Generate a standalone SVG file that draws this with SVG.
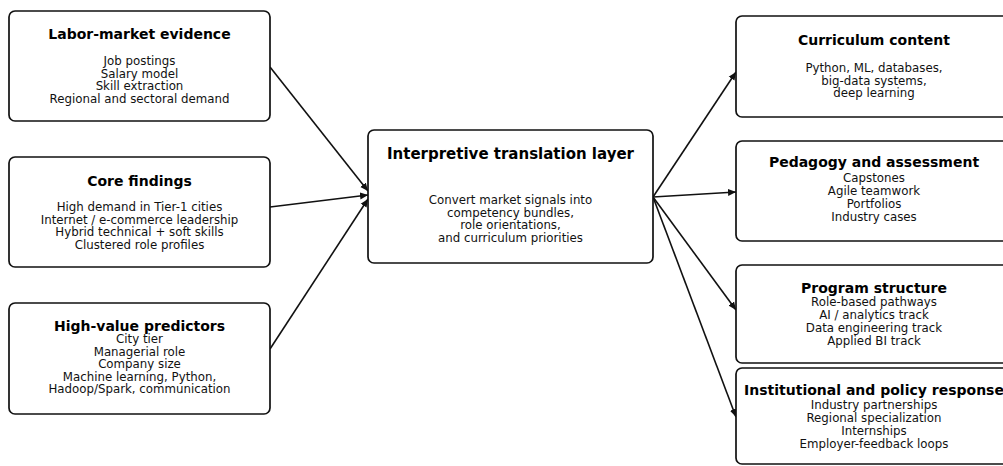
<svg xmlns="http://www.w3.org/2000/svg" width="1003" height="466" viewBox="0 0 1003 466">
<style>
.box{fill:#fff;stroke:#111;stroke-width:1.7}
.t{font-family:"DejaVu Sans",sans-serif;font-weight:bold;font-size:14px;fill:#000;text-anchor:middle}
.tc{font-size:15px}
.b{font-family:"DejaVu Sans",sans-serif;font-size:11.8px;fill:#111;text-anchor:middle}
.c{stroke:#111;stroke-width:1.6;fill:none;marker-end:url(#ah)}
</style>
<defs>
<marker id="ah" markerUnits="userSpaceOnUse" markerWidth="9" markerHeight="8" refX="8" refY="4" orient="auto">
<path d="M0,0.5 L8,4 L0,7.5 Z" fill="#111"/>
</marker>
</defs>
<rect width="1003" height="466" fill="#fff"/>
<g id="connectors">
<line class="c" x1="270" y1="67" x2="368" y2="191"/>
<line class="c" x1="270" y1="207" x2="368" y2="195"/>
<line class="c" x1="270" y1="349" x2="368" y2="199"/>
<line class="c" x1="653" y1="197" x2="736" y2="72"/>
<line class="c" x1="653" y1="197" x2="736" y2="192"/>
<line class="c" x1="653" y1="197" x2="736" y2="310"/>
<line class="c" x1="653" y1="197" x2="736" y2="417"/>
</g>
<g id="labor">
<rect class="box" x="9" y="11" width="261" height="110" rx="6"/>
<text class="t" x="139.5" y="39">Labor-market evidence</text>
<text class="b" x="139.5" y="65">Job postings</text>
<text class="b" x="139.5" y="77.5">Salary model</text>
<text class="b" x="139.5" y="90">Skill extraction</text>
<text class="b" x="139.5" y="102.5">Regional and sectoral demand</text>
</g>
<g id="core">
<rect class="box" x="9" y="157" width="261" height="110" rx="6"/>
<text class="t" x="139.5" y="186">Core findings</text>
<text class="b" x="139.5" y="211">High demand in Tier-1 cities</text>
<text class="b" x="139.5" y="223.5">Internet / e-commerce leadership</text>
<text class="b" x="139.5" y="236">Hybrid technical + soft skills</text>
<text class="b" x="139.5" y="248.5">Clustered role profiles</text>
</g>
<g id="predictors">
<rect class="box" x="9" y="303" width="261" height="111" rx="6"/>
<text class="t" x="139.5" y="331">High-value predictors</text>
<text class="b" x="139.5" y="343">City tier</text>
<text class="b" x="139.5" y="355.5">Managerial role</text>
<text class="b" x="139.5" y="368">Company size</text>
<text class="b" x="139.5" y="380.5">Machine learning, Python,</text>
<text class="b" x="139.5" y="393">Hadoop/Spark, communication</text>
</g>
<g id="translation">
<rect class="box" x="368" y="130" width="285" height="133" rx="6"/>
<text class="t tc" x="510.5" y="159">Interpretive translation layer</text>
<text class="b" x="510.5" y="204">Convert market signals into</text>
<text class="b" x="510.5" y="216.5">competency bundles,</text>
<text class="b" x="510.5" y="229">role orientations,</text>
<text class="b" x="510.5" y="241.5">and curriculum priorities</text>
</g>
<g id="curriculum">
<rect class="box" x="736" y="16" width="276" height="101" rx="6"/>
<text class="t" x="874" y="45">Curriculum content</text>
<text class="b" x="874" y="72">Python, ML, databases,</text>
<text class="b" x="874" y="84.5">big-data systems,</text>
<text class="b" x="874" y="97">deep learning</text>
</g>
<g id="pedagogy">
<rect class="box" x="736" y="141" width="276" height="100" rx="6"/>
<text class="t" x="874" y="167">Pedagogy and assessment</text>
<text class="b" x="874" y="181.5">Capstones</text>
<text class="b" x="874" y="194.5">Agile teamwork</text>
<text class="b" x="874" y="207.5">Portfolios</text>
<text class="b" x="874" y="220.5">Industry cases</text>
</g>
<g id="program">
<rect class="box" x="736" y="265" width="276" height="98" rx="6"/>
<text class="t" x="874" y="293">Program structure</text>
<text class="b" x="874" y="306">Role-based pathways</text>
<text class="b" x="874" y="319">AI / analytics track</text>
<text class="b" x="874" y="332">Data engineering track</text>
<text class="b" x="874" y="345">Applied BI track</text>
</g>
<g id="institutional">
<rect class="box" x="736" y="368" width="276" height="96" rx="6"/>
<text class="t" x="874" y="395">Institutional and policy response</text>
<text class="b" x="874" y="408.5">Industry partnerships</text>
<text class="b" x="874" y="421.5">Regional specialization</text>
<text class="b" x="874" y="434.5">Internships</text>
<text class="b" x="874" y="447.5">Employer-feedback loops</text>
</g>
</svg>
